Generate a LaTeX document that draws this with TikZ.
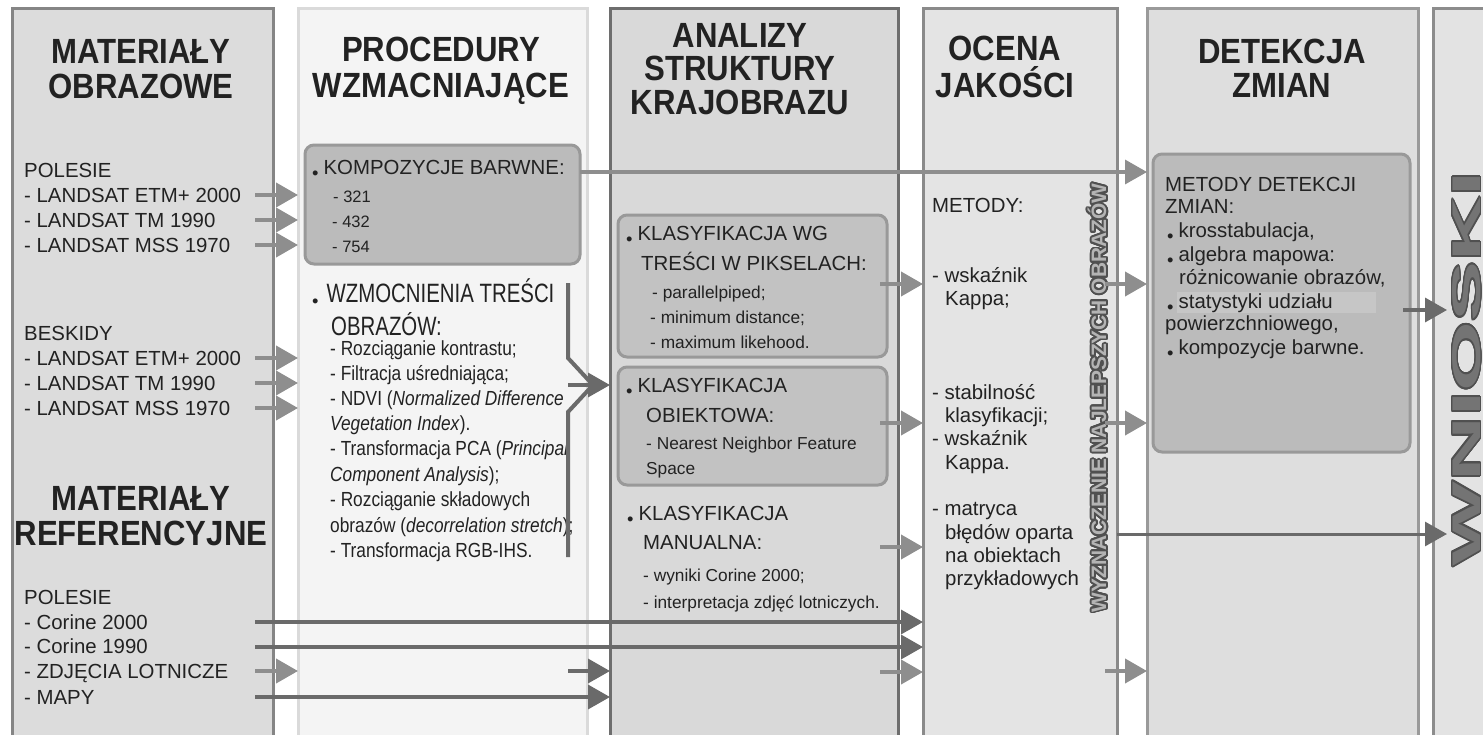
\documentclass[tikz,border=0pt]{standalone}
\usepackage{fontspec}
\setmainfont{Liberation Sans}
\usepackage{graphicx}
\usepackage[copies]{contour}
\usetikzlibrary{arrows.meta}
\definecolor{txt}{HTML}{222222}
\definecolor{cAf}{HTML}{DCDCDC}\definecolor{cAd}{HTML}{858585}
\definecolor{cBf}{HTML}{F4F4F4}\definecolor{cBd}{HTML}{DADADA}
\definecolor{cCf}{HTML}{D9D9D9}\definecolor{cCd}{HTML}{6E6E6E}
\definecolor{cDf}{HTML}{E4E4E4}\definecolor{cDd}{HTML}{8A8A8A}
\definecolor{cEf}{HTML}{DEDEDE}\definecolor{cEd}{HTML}{9A9A9A}
\definecolor{cFf}{HTML}{E3E3E3}\definecolor{cFd}{HTML}{8C8C8C}
\definecolor{boxf}{HTML}{BBBBBB}\definecolor{boxg}{HTML}{C2C2C2}\definecolor{boxd}{HTML}{999999}
\definecolor{hilite}{HTML}{C6C6C6}
\definecolor{arrl}{HTML}{8E8E8E}\definecolor{arrd}{HTML}{6A6A6A}
\definecolor{outl}{HTML}{505050}\definecolor{wyzf}{HTML}{B4B4B4}\definecolor{wnf}{HTML}{747474}
\newcommand{\hdfont}{\fontsize{35}{40}\selectfont\bfseries}
\newcommand{\txfont}{\fontsize{20.4}{24}\selectfont}
\newcommand{\smfont}{\fontsize{17.3}{21}\selectfont}
\newcommand{\hdr}[1]{\scalebox{0.89}[1]{#1}}
\newcommand{\tall}[1]{\scalebox{1}[1.3]{#1}}
\newcommand{\stl}[1]{\scalebox{1}[1.18]{#1}}
\newcommand{\bul}{\raisebox{-5.5pt}{\scalebox{0.9}{\textbullet}}\hspace{5pt}}
\tikzset{
  colbox/.style={draw, line width=3pt, inner sep=0pt, outer sep=0pt, anchor=north west, minimum height=790pt},
  rbox/.style={draw=boxd, line width=3pt, rounded corners=9pt, inner sep=0pt, outer sep=0pt, anchor=north west},
  hd/.style={anchor=base, inner sep=0pt, font=\hdfont, text=txt},
  tx/.style={anchor=base west, inner sep=0pt, font=\txfont, text=txt},
  sm/.style={anchor=base west, inner sep=0pt, font=\smfont, text=txt},
  arr/.style={draw=arrl, line width=4pt, -{Triangle[length=22pt,width=24pt]}},
  darr/.style={draw=arrd, line width=3.5pt, -{Triangle[length=22pt,width=24pt]}},
  brk/.style={draw=arrd, line width=4pt, line join=miter},
}
\begin{document}
\begin{tikzpicture}[x=1pt,y=-1pt]
\useasboundingbox (0,0) rectangle (1483,734);
\fill[white] (0,0) rectangle (1483,734);
% columns
\node[colbox, draw=cAd, fill=cAf, minimum width=261pt] (c1) at (12,8) {};
\node[colbox, draw=cBd, fill=cBf, minimum width=289pt] (c2) at (298,8) {};
\node[colbox, draw=cCd, fill=cCf, minimum width=288pt] (c3) at (610,8) {};
\node[colbox, draw=cDd, fill=cDf, minimum width=194pt] (c4) at (923,8) {};
\node[colbox, draw=cEd, fill=cEf, minimum width=271pt] (c5) at (1147,8) {};
\node[colbox, draw=cFd, fill=cFf, minimum width=80pt] (c6) at (1433,8) {};
% inner boxes
\node[rbox, fill=boxf, minimum width=275pt, minimum height=119pt] (b1) at (305,145) {};
\node[rbox, fill=boxg, minimum width=269pt, minimum height=142pt] (b2) at (618,215) {};
\node[rbox, fill=boxg, minimum width=269pt, minimum height=118pt] (b3) at (618,367) {};
\node[rbox, fill=boxf, minimum width=257pt, minimum height=298pt] (b4) at (1153,154) {};
\fill[hilite] (1177,292) rectangle (1376,313);
% ---- column 1
\node[hd] (h1a) at (141,63) {\hdr{MATERIAŁY}};
\node[hd] (h1b) at (141,98) {\hdr{OBRAZOWE}};
\node[tx] (p1) at (24,177) {POLESIE};
\node[tx] (p1a) at (24,202) {- LANDSAT ETM+ 2000};
\node[tx] (p1b) at (24,227) {- LANDSAT TM 1990};
\node[tx] (p1c) at (24,252) {- LANDSAT MSS 1970};
\node[tx] (bk) at (24,340) {BESKIDY};
\node[tx] (bka) at (24,365) {- LANDSAT ETM+ 2000};
\node[tx] (bkb) at (24,390) {- LANDSAT TM 1990};
\node[tx] (bkc) at (24,415) {- LANDSAT MSS 1970};
\node[hd] (h1c) at (141,510) {\hdr{MATERIAŁY}};
\node[hd] (h1d) at (141,545) {\hdr{REFERENCYJNE}};
\node[tx] (p2) at (24,604) {POLESIE};
\node[tx] (p2a) at (24,629) {- Corine 2000};
\node[tx] (p2b) at (24,653) {- Corine 1990};
\node[tx] (p2c) at (24,678) {- ZDJĘCIA LOTNICZE};
\node[tx] (p2d) at (24,704) {- MAPY};
% ---- column 2
\node[hd] (h2a) at (441,61) {\hdr{PROCEDURY}};
\node[hd] (h2b) at (441,97) {\hdr{WZMACNIAJĄCE}};
\node[tx] (k0) at (312,174) {\bul KOMPOZYCJE BARWNE:};
\node[sm, font=\fontsize{16.5}{20}\selectfont] (k1) at (333,202) {- 321};
\node[sm, font=\fontsize{16.5}{20}\selectfont] (k2) at (332,227) {- 432};
\node[sm, font=\fontsize{16.5}{20}\selectfont] (k3) at (332,252) {- 754};
\node[tx] (w0) at (312,302) {\bul\hspace{3pt}\tall{WZMOCNIENIA TREŚCI}};
\node[tx] (w1) at (331,335) {\tall{OBRAZÓW:}};
\node[sm] (w2) at (330,355) {\stl{- Rozciąganie kontrastu;}};
\node[sm] (w3) at (330,380) {\stl{- Filtracja uśredniająca;}};
\node[sm] (w4) at (330,405) {\stl{- NDVI (\textit{Normalized Difference}}};
\node[sm] (w5) at (330,430) {\stl{\textit{Vegetation Index}).}};
\node[sm] (w6) at (330,455) {\stl{- Transformacja PCA (\textit{Principal}}};
\node[sm] (w7) at (330,481) {\stl{\textit{Component Analysis});}};
\node[sm] (w8) at (330,506) {\stl{- Rozciąganie składowych}};
\node[sm] (w9) at (330,532) {\stl{obrazów (\textit{decorrelation stretch});}};
\node[sm] (w10) at (330,557) {\stl{- Transformacja RGB-IHS.}};
% ---- column 3
\node[hd] (h3a) at (740,47) {\hdr{ANALIZY}};
\node[hd] (h3b) at (740,80) {\hdr{STRUKTURY}};
\node[hd] (h3c) at (740,114) {\hdr{KRAJOBRAZU}};
\node[tx] (a0) at (626,240) {\bul KLASYFIKACJA WG};
\node[tx] (a1) at (641,270) {TREŚCI W PIKSELACH:};
\node[sm] (a2) at (652,298) {- parallelpiped;};
\node[sm] (a3) at (650,323) {- minimum distance;};
\node[sm] (a4) at (650,348) {- maximum likehood.};
\node[tx] (o0) at (626,392) {\bul KLASYFIKACJA};
\node[tx] (o1) at (646,422) {OBIEKTOWA:};
\node[sm] (o2) at (646,449) {- Nearest Neighbor Feature};
\node[sm] (o3) at (646,474) {Space};
\node[tx] (m0) at (627,520) {\bul KLASYFIKACJA};
\node[tx] (m1) at (643,549) {MANUALNA:};
\node[sm] (m2) at (643,581) {- wyniki Corine 2000;};
\node[sm] (m3) at (643,608) {- interpretacja zdjęć lotniczych.};
% ---- column 4
\node[hd] (h4a) at (1005,60) {\hdr{OCENA}};
\node[hd] (h4b) at (1005,97) {\hdr{JAKOŚCI}};
\node[tx] (q0) at (932,212) {METODY:};
\node[tx] (q1) at (932,282) {- wskaźnik};
\node[tx] (q2) at (945,305) {Kappa;};
\node[tx] (q3) at (932,399) {- stabilność};
\node[tx] (q4) at (945,422) {klasyfikacji;};
\node[tx] (q5) at (932,445) {- wskaźnik};
\node[tx] (q6) at (945,469) {Kappa.};
\node[tx] (q7) at (932,515) {- matryca};
\node[tx] (q8) at (945,539) {błędów oparta};
\node[tx] (q9) at (945,562) {na obiektach};
\node[tx] (q10) at (945,585) {przykładowych};
\contourlength{0.9pt}\contournumber{24}
\node[rotate=90, inner sep=0pt] (wyz) at (1098,398) {\resizebox{428pt}{!}{\bfseries\contour{outl}{\color{wyzf}WYZNACZENIE NAJLEPSZYCH OBRAZÓW}}};
% ---- column 5
\node[hd] (h5a) at (1282,63) {\hdr{DETEKCJA}};
\node[hd] (h5b) at (1282,97) {\hdr{ZMIAN}};
\node[tx] (d0) at (1165,191) {METODY DETEKCJI};
\node[tx] (d1) at (1165,213) {ZMIAN:};
\node[tx] (d2) at (1167,237) {\bul krosstabulacja,};
\node[tx] (d3) at (1167,261) {\bul algebra mapowa:};
\node[tx] (d4) at (1179,284) {różnicowanie obrazów,};
\node[tx] (d5) at (1167,308) {\bul statystyki udziału};
\node[tx] (d6) at (1165,330) {powierzchniowego,};
\node[tx] (d7) at (1167,354) {\bul kompozycje barwne.};
% ---- column 6
\node[rotate=90, inner sep=0pt] (wn) at (1467,369) {\resizebox{394pt}{28pt}{\fontsize{40}{44}\selectfont\bfseries\contour{outl}{\color{wnf}WNIOSKI}}};
% ---- connector start points
\coordinate (s1) at (255,195); \coordinate (s2) at (255,220); \coordinate (s3) at (255,245);
\coordinate (s4) at (255,358); \coordinate (s5) at (255,383); \coordinate (s6) at (255,408);
\coordinate (s7) at (255,622); \coordinate (s8) at (255,647); \coordinate (s9) at (255,671); \coordinate (s10) at (255,697);
\coordinate (z1) at (568,671);
\coordinate (bt) at (568,283); \coordinate (bm) at (568,385); \coordinate (bb) at (568,557);
\coordinate (k) at (580,172);
\coordinate (t1) at (880,284); \coordinate (t2) at (880,423); \coordinate (t3) at (880,547); \coordinate (t4) at (880,672);
\coordinate (u1) at (1105,284); \coordinate (u2) at (1105,423); \coordinate (u3) at (1105,671);
\coordinate (v1) at (1403,310); \coordinate (v2) at (1117,534);
\coordinate (wt) at (1447,0);
% ---- connectors
\foreach \s in {s1,s2,s3,s4,s5,s6,s9} \draw[arr] (\s) -- (\s -| c2.west);
\draw[darr] (s7) -- (s7 -| c4.west);
\draw[darr] (s8) -- (s8 -| c4.west);
\draw[darr] (s10) -- (s10 -| c3.west);
\draw[darr] (z1) -- (z1 -| c3.west);
\draw[brk] (bt) -- (568,358) -- (593,385) -- (568,412) -- (bb);
\draw[darr] (bm) -- (bm -| c3.west);
\draw[draw=arrl, line width=3.5pt, -{Triangle[length=22pt,width=24pt]}] (k) -- (k -| c5.west);
\foreach \s in {t1,t2,t3,t4} \draw[arr] (\s) -- (\s -| c4.west);
\foreach \s in {u1,u2,u3} \draw[arr] (\s) -- (\s -| c5.west);
\draw[darr] (v1) -- (v1 -| wt);
\draw[darr, line width=3pt] (v2) -- (v2 -| wt);
\end{tikzpicture}
\end{document}
